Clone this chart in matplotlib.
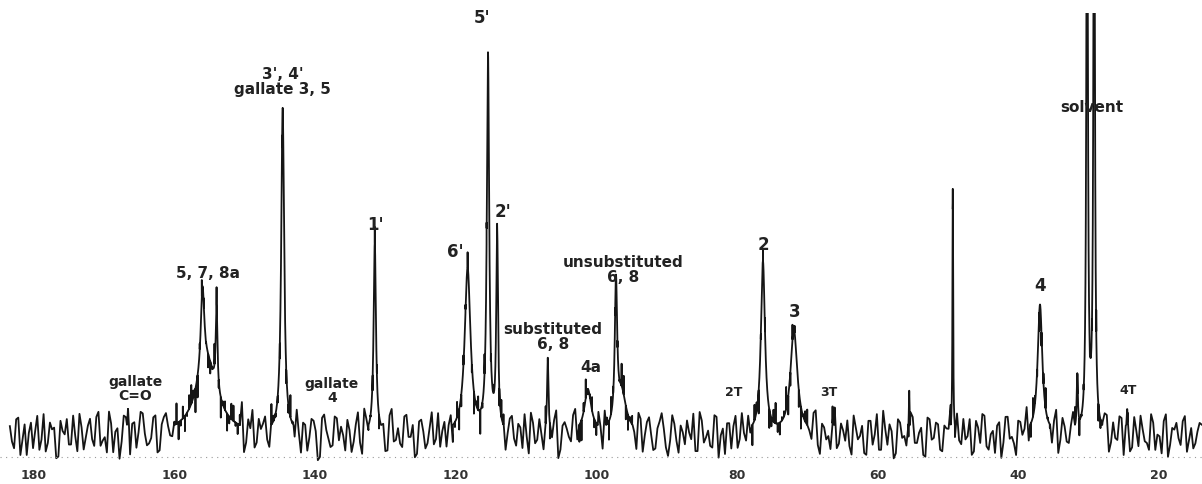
import numpy as np
import matplotlib.pyplot as plt

# peak list (ppm, height above baseline, half width in ppm)
peak_ppm = [166.6, 156.0, 155.4, 154.0, 144.6, 131.5, 118.3, 115.4, 114.1, 106.9,
            101.2, 97.2, 96.4, 76.3, 71.9, 66.3, 55.5, 49.3, 36.9, 31.6,
            30.2, 29.2, 24.5]
peak_height = [24, 85, 70, 85, 325, 192, 165, 375, 200, 74,
               44, 139, 40, 172, 104, 20, 44, 246, 130, 54,
               700, 700, 25]
peak_hwhm = [0.1, 0.3, 1.8, 0.15, 0.25, 0.2, 0.5, 0.2, 0.15, 0.12,
             0.6, 0.2, 0.8, 0.35, 0.6, 0.1, 0.06, 0.06, 0.4, 0.1,
             0.12, 0.12, 0.1]

# baseline noise, two interleaved sets, one value every 0.6 ppm each
noise_a = [5, -8, 10, -3, -12, 7, 2, -9, 12, -5, 3, -14, 8, 0, -6, 11, -10, 4, -2, 9,
           -7, 13, -4, -11, 6, 1, -15, 10, -3, 5, -9, 12, -1, -7, 8, -13, 3, 9, -5, 2,
           -10, 7, -2, 11, -14, 4, 6, -8, -1, 10, -12, 5, -4, 9, -6, 14, -9, 0, -11, 6,
           3, -7, 12, -2, -10, 8, -5, 1, 11, -13, 4, -3, 7, -16, 9, 2, -8, 10, -4, -1,
           8, -11, 5, -6, 13, -3, -9, 6, 0, -12, 10, -5, 3, -8, 11, -2, -14, 7, 1, -6,
           12, -4, -9, 5, 2, -10, 9, -7, 4, -1, -13, 8, -3, 10, -6, 1, -11, 6, -2, 9,
           -8, 3, 11, -12, 6, -4, -1, 10, -9, 7, -15, 4, 2, -6, 12, -10, 5, -3, 8, -7,
           0, 9, -11, 4, -5, 13, -8, 2, -3, 10, -12, 6, -1, -9, 7, 3, -13, 11, -4, 5,
           -6, 1, 12, -10, 8, -2, -7, 11, -14, 3, 6, -9, 10, -4, -1, 8, -12, 5, -3, 9,
           -11, 7, -5, 2, 13, -8, 4, -10, 1, 9, -6, 12, -13, 3, -2, 10, -9, 6, -4, -7,
           11, -3, 5, -12, 8, 0, -9, 14, -6, 2, -11, 7, -1, -8, 10, -5, 4, -13, 9, -2,
           6, -10, 3, 12, -7, -4, 9, -1, -12, 8, -5, 11, -9, 2, 5, -14, 10, -3, -6, 7,
           -2, 13, -8, 4, -11, 6, 1, -9, 12, -5, 3, -7, 10, -12, -1, 8, -4, 11, -10, 2,
           9, -6, -3, 10, -13, 5, -8, 2, 11, -4, -9, 7, 0, -11, 12, -6, 3, -2, 8, -10,
           4, -5, 7]
noise_b = [-4, 9, -12, 6, 1, -8, 11, -3, -10, 7, 4, -13, 2, 9, -6, -1, 12, -9, 5, -3,
           10, -7, -2, 13, -11, 3, -5, 8, -14, 6, 0, 11, -8, -4, 9, -12, 7, 1, -6, 12,
           -3, -9, 8, 4, -13, 10, -1, -7, 12, -5, 2, -10, 9, -2, 6, -15, 5, 11, -8, 0,
           7, -12, 3, -4, 10, -9, 13, -6, -2, 5, -11, 8, 1, -14, 11, -3, -7, 9, 4, -10,
           2, -5, 12, -13, 6, -1, 9, -8, 3, -11, 14, -4, -6, 10, -2, 5, -12, 8, -9, 3,
           -7, 11, 0, -10, 7, -3, -12, 6, 9, -5, 2, -14, 12, -8, 4, -1, 10, -13, 7, -4,
           5, -9, -2, 12, -6, 8, -11, 1, -4, 13, -10, 6, -3, 9, -7, -12, 11, 2, -5, 8,
           -13, 4, 10, -6, -1, 11, -9, 5, -12, 7, -2, 9, -10, 3, 12, -8, -4, 6, -11, 1,
           8, -3, -10, 13, -5, 2, -8, 10, -1, -12, 6, 4, -9, 11, -6, -3, 9, -14, 7, 0,
           -5, 12, -7, 3, -11, 9, 1, -13, 6, -2, 10, -8, 5, -4, -10, 13, -6, 2, 8, -12,
           4, -1, -11, 8, -6, 12, -9, 3, 6, -14, 9, -2, -7, 11, -5, 1, -12, 10, -3, 7,
           -9, 5, 2, -12, 11, -6, -3, 9, -10, 4, 12, -7, 0, -11, 7, -5, 10, -2, -13, 6,
           1, -8, 11, -4, -9, 12, -2, 5, -13, 8, -6, 3, 10, -10, 4, -1, -7, 13, -5, 9,
           -12, 6, -4, 9, 2, -11, 10, -7, 3, -5, 12, -9, -1, 8, -13, 4, 7, -6, 11, -3,
           -8, 2, 6]

labels = ["gallate\nC=O", "5, 7, 8a", "3', 4'\ngallate 3, 5", "gallate\n4", "1'", "6'",
          "5'", "2'", "substituted\n6, 8", "4a", "unsubstituted\n6, 8", "2T", "2", "3",
          "3T", "4", "solvent", "4T"]
label_ppm = [165.6, 155.2, 144.6, 137.6, 131.4, 120.1, 116.3, 113.3, 106.2, 100.8,
             96.2, 80.4, 76.2, 71.8, 67.0, 36.9, 29.5, 24.4]
label_y = [68, 183, 375, 66, 232, 205, 439, 245, 120, 89, 187, 64, 212, 145, 64, 171, 350, 67]
label_size = [10, 11, 11, 10, 12, 12, 12, 12, 11, 11, 11, 9, 12, 12, 9, 12, 11, 9]

ticks = [180, 160, 140, 120, 100, 80, 60, 40, 20]

baseline = 22
noise_scale = 1.7


def spectrum(x):
    y = np.zeros_like(x)
    for p, h, w in zip(peak_ppm, peak_height, peak_hwhm):
        y += h / (1 + ((x - p) / w) ** 2)
    return y


fig = plt.figure(figsize=(12.02, 4.84), dpi=100)
ax = fig.add_axes([0, 0, 1, 471 / 484])

# noisy points (two interleaved sets, 0.3 ppm apart) plus dense points on the peaks,
# merged into one trace
x_a = 183.4 - 0.6 * np.arange(len(noise_a))
x_b = 183.1 - 0.6 * np.arange(len(noise_b))
x_noise = np.column_stack([x_a, x_b]).ravel()
n_noise = np.column_stack([noise_a, noise_b]).ravel()

x_fine = np.linspace(183.4, 13.9, 20000)
x_fine = x_fine[spectrum(x_fine) > 10]

x_all = np.concatenate([x_noise, x_fine])
n_all = np.concatenate([noise_scale * n_noise, np.zeros(len(x_fine))])
order = np.argsort(-x_all)
x_all, n_all = x_all[order], n_all[order]
y_all = baseline + n_all + spectrum(x_all)
ax.plot(x_all, y_all, color='#151515', lw=1.3)

ax.axhline(0, color='#999999', lw=0.8, ls=(0, (1, 4)))

for t, p, yy, s in zip(labels, label_ppm, label_y, label_size):
    ax.text(p, yy, t, ha='center', va='center', fontsize=s, fontweight='bold',
            color='#222222', linespacing=0.95)

ax.set_xlim(184.8, 13.86)
ax.set_ylim(-27, 444)
ax.set_xticks(ticks)
ax.set_xticklabels([str(t) for t in ticks], fontsize=9, fontweight='bold', color='#333333')
ax.tick_params(axis='x', length=0, pad=-11)
ax.set_yticks([])
for s in ax.spines.values():
    s.set_visible(False)

plt.savefig('out.png', dpi=100)
